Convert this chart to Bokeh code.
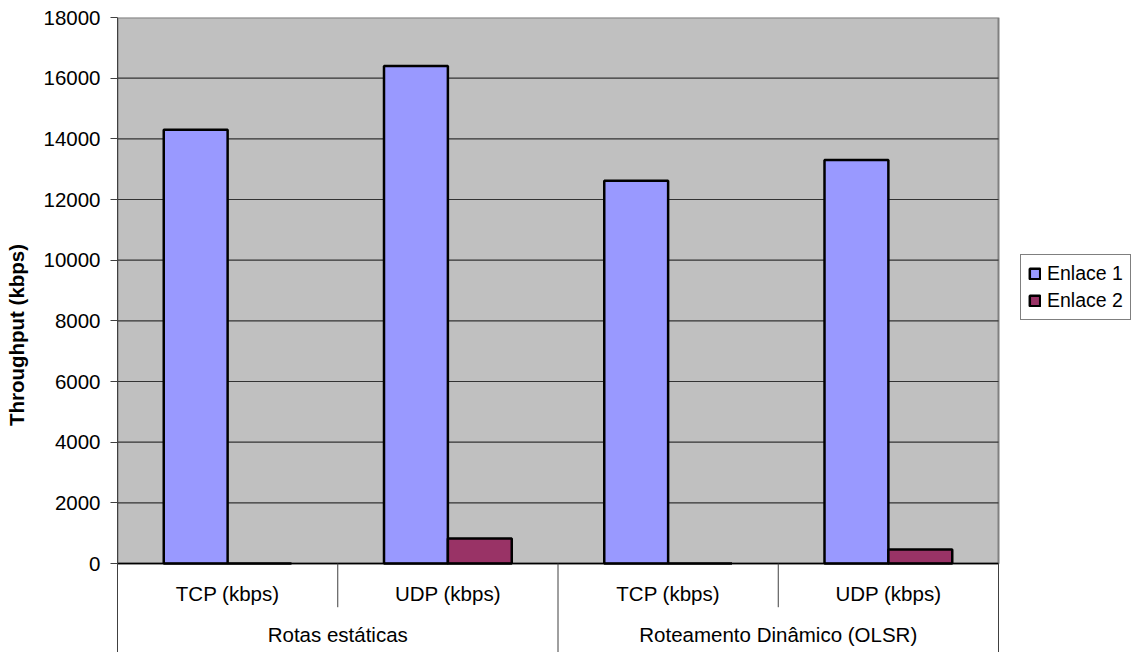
from bokeh.plotting import figure
from bokeh.models import FixedTicker, Legend, LegendItem, Range1d
from bokeh.embed import file_html
from bokeh.resources import INLINE
from bokeh.core.properties import value

# ---- data ----
groups = ["Rotas estáticas", "Roteamento Dinâmico (OLSR)"]
protocols = ["TCP (kbps)", "UDP (kbps)", "TCP (kbps)", "UDP (kbps)"]
series_names = ["Enlace 1", "Enlace 2"]
enlace1 = [14300, 16400, 12620, 13300]
enlace2 = [0, 825, 0, 460]
y_ticks = [0, 2000, 4000, 6000, 8000, 10000, 12000, 14000, 16000, 18000]

# ---- style ----
FONT = "Liberation Sans"
FS = "20.5px"
colors = ["#9999FF", "#993366"]
n = len(protocols)
ymax = y_ticks[-1]
ymin = -2934          # room below zero for the category table
xmax = n * 1018 / 881  # room right of the plot area for the legend

p = figure(width=1135, height=652, output_backend="svg", toolbar_location=None,
           x_range=Range1d(0, xmax), y_range=Range1d(ymin, ymax),
           min_border_left=117, min_border_right=0, min_border_top=17, min_border_bottom=0)
p.outline_line_color = None
p.background_fill_color = "white"
p.border_fill_color = "white"
p.xgrid.visible = False
p.ygrid.visible = False
p.xaxis.visible = False

ax = p.yaxis[0]
ax.ticker = FixedTicker(ticks=y_ticks)
ax.minor_tick_line_color = None
ax.major_tick_out = 7
ax.major_tick_in = 0
ax.major_tick_line_color = "#404040"
ax.axis_line_color = "#404040"
ax.major_label_standoff = 10
ax.major_label_text_font = FONT
ax.major_label_text_font_size = FS
ax.major_label_text_color = "black"
ax.axis_label = "Throughput (kbps)"
ax.axis_label_text_font = FONT
ax.axis_label_text_font_size = FS
ax.axis_label_text_font_style = "bold"
ax.axis_label_text_color = "black"
ax.axis_label_standoff = 12

# plot area background and border
p.quad(left=[0], right=[n], bottom=[0], top=[ymax], fill_color="#C0C0C0",
       line_color="#808080", line_width=2)

# gridlines
grid_vals = y_ticks[1:-1]
p.segment(x0=[0] * len(grid_vals), x1=[n] * len(grid_vals), y0=grid_vals, y1=grid_vals,
          line_color="#333333", line_width=1.2)

# bars
centers = [i + 0.5 for i in range(n)]
bw = 0.29
r1 = p.vbar(x=[c - bw / 2 for c in centers], top=enlace1, bottom=0, width=bw,
            fill_color=colors[0], line_color="black", line_width=2.5)
r2 = p.vbar(x=[c + bw / 2 for c in centers], top=enlace2, bottom=0, width=bw,
            fill_color=colors[1], line_color="black", line_width=2.5)

# zero line
p.segment(x0=[0], x1=[n], y0=[0], y1=[0], line_color="black", line_width=1.5)

# category table lines
inner_y = -1441
inner_x = [1, 3]
outer_x = [0, 2, 4]
p.segment(x0=inner_x, x1=inner_x, y0=[0] * len(inner_x), y1=[inner_y] * len(inner_x),
          line_color="#404040", line_width=1)
p.segment(x0=outer_x, x1=outer_x, y0=[0] * len(outer_x), y1=[ymin] * len(outer_x),
          line_color="#404040", line_width=1)

# category labels
p.text(x=centers, y=[-975] * n, text=protocols, text_align="center", text_baseline="middle",
       text_font=value(FONT), text_font_size=FS, text_color="black")
p.text(x=[1, 3], y=[-2340] * 2, text=groups, text_align="center", text_baseline="middle",
       text_font=value(FONT), text_font_size=FS, text_color="black")

legend = Legend(items=[LegendItem(label=series_names[0], renderers=[r1]),
                       LegendItem(label=series_names[1], renderers=[r2])],
                location=(903, 332))
legend.border_line_color = "black"
legend.border_line_width = 1
legend.background_fill_color = "white"
legend.background_fill_alpha = 1
legend.label_text_font = FONT
legend.label_text_font_size = "19.5px"
legend.label_text_color = "black"
legend.glyph_width = 13
legend.glyph_height = 13
legend.label_standoff = 6
legend.padding = 7
legend.spacing = 4
legend.margin = 0
p.add_layout(legend, "center")

open("out.html", "w").write(file_html(p, INLINE))
